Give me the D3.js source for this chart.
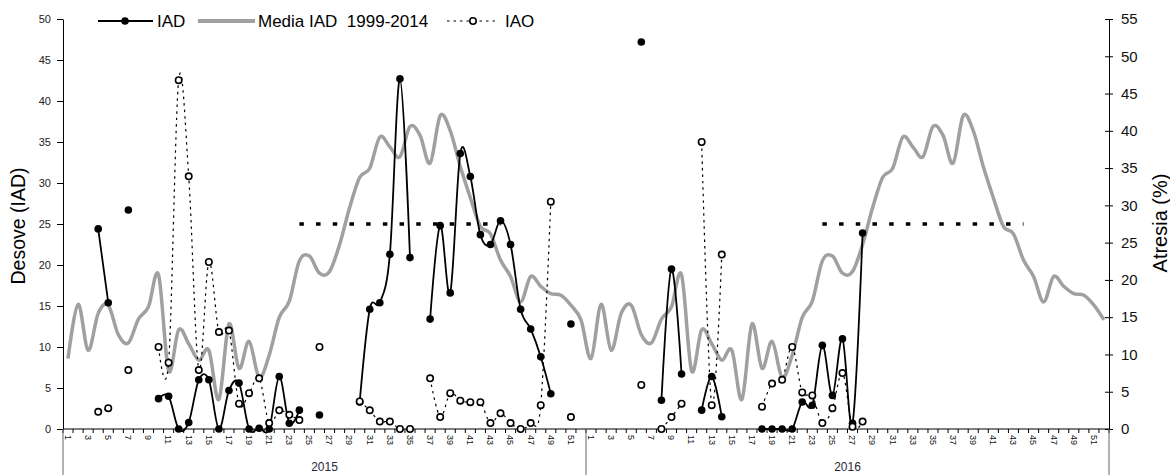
<!DOCTYPE html>
<html>
<head>
<meta charset="utf-8">
<script src="https://cdn.jsdelivr.net/npm/d3@7"></script>
<style>
  html, body { margin: 0; padding: 0; background: #fff; }
  svg { display: block; font-family: "Liberation Sans", Arial, sans-serif; }
</style>
</head>
<body>
<div id="chart"></div>
<script>
// datos semanales 2015-2016
const years = ['2015', '2016'];
const weeks = d3.range(1, 53);

// media IAD 1999-2014 (misma curva para los dos años)
const media = [
  8.6, 15.2, 9.6, 14.1, 15.1, 11.5, 10.5, 13.4, 14.9, 18.8,
  7.1, 12.1, 10.4, 8.4, 9.6, 3.6, 12.8, 7.4, 10.7, 6.3,
  9.0, 13.6, 15.6, 20.5, 21.1, 19.0, 19.2, 22.5, 27.0, 30.7,
  31.8, 35.6, 34.4, 33.2, 36.9, 35.8, 32.4, 38.2, 36.4, 32.0,
  28.2, 24.7, 23.8, 20.6, 18.6, 15.5, 18.6, 17.4, 16.5, 16.3,
  15.1, 13.3
];

const iad2015 = [
  null, null, null, 24.4, 15.4, null, 26.7, null, null, 3.7,
  4.0, 0, 0.8, 6.0, 6.0, 0, 4.7, 5.6, 0, 0.1,
  0, 6.4, 0.7, 2.3, null, 1.7, null, null, null, 3.3,
  14.6, 15.4, 21.3, 42.7, 20.9, null, 13.4, 24.8, 16.6, 33.6,
  30.8, 23.7, 22.5, 25.4, 22.5, 14.6, 12.2, 8.8, 4.3, null,
  12.8, null
];

const iad2016 = [
  null, null, null, null, null, 47.2, null, 3.5, 19.5, 6.7,
  null, 2.3, 6.4, 1.5, null, null, null, 0, 0, 0,
  0, 3.3, 2.9, 10.2, 4.1, 11.0, 0.7, 23.9, null, null,
  null, null, null, null, null, null, null, null, null, null,
  null, null, null, null, null, null, null, null, null, null,
  null, null
];

// IAO en eje derecho (Atresia %)
const iao2015 = [
  null, null, null, 2.3, 2.8, null, 7.9, null, null, 11.0,
  8.9, 46.8, 33.9, 7.9, 22.4, 13.0, 13.2, 3.4, 4.8, 6.8,
  0.8, 2.5, 1.9, 1.2, null, 11.0, null, null, null, 3.7,
  2.5, 1.0, 1.0, 0, 0, null, 6.8, 1.6, 4.8, 3.8,
  3.6, 3.6, 0.8, 2.1, 0.8, 0, 0.8, 3.2, 30.5, null,
  1.6, null
];

const iao2016 = [
  null, null, null, null, null, 5.9, null, 0, 1.6, 3.4,
  null, 38.5, 3.2, 23.4, null, null, null, 3.0, 6.1, 6.6,
  11.0, 4.9, 4.5, 0.8, 2.8, 7.5, 0.3, 1.0, null, null,
  null, null, null, null, null, null, null, null, null, null,
  null, null, null, null, null, null, null, null, null, null,
  null, null
];

// umbral de desove
const umbral = 25;
const umbralWeeks = [24, 44];

const leftTicks = d3.range(0, 51, 5);
const rightTicks = d3.range(0, 56, 5);

// ---- geometría ----
const W = 1170, H = 475;
const X0 = 63, X1 = 1109, Y0 = 429, YTOP = 19;
const GRAY = '#a0a0a0';

const svg = d3.select('#chart').append('svg')
  .attr('width', W).attr('height', H);

const keys = [];
years.forEach(y => weeks.forEach(w => keys.push(y + '-' + w)));

const x = d3.scaleBand().domain(keys).range([X0, X1]);
const cx = k => x(k) + x.bandwidth() / 2;
const yL = d3.scaleLinear().domain([0, 50]).range([Y0, YTOP]);
const yR = d3.scaleLinear().domain([0, 55]).range([Y0, YTOP]);

function series(a2015, a2016) {
  return keys.map((k, i) => ({ k, v: i < 52 ? a2015[i] : a2016[i - 52] }));
}

const iadData = series(iad2015, iad2016);
const iaoData = series(iao2015, iao2016);
const mediaData = series(media, media);

const smooth = d3.curveCardinal.tension(0);

// ---- ejes ----
const left = svg.append('g')
  .attr('transform', `translate(${X0},0)`)
  .call(d3.axisLeft(yL).tickValues(leftTicks).tickSize(6).tickSizeOuter(0).tickPadding(6));
left.selectAll('text').attr('font-size', 11).attr('fill', '#222')
  .attr('font-family', '"Liberation Sans", Arial, sans-serif');
left.selectAll('path, line').attr('stroke', '#000');

const right = svg.append('g')
  .attr('transform', `translate(${X1},0)`)
  .call(d3.axisRight(yR).tickValues(rightTicks).tickSize(4).tickSizeOuter(0).tickPadding(8));
right.selectAll('.tick line').attr('x1', -4);
right.selectAll('text').attr('font-size', 15).attr('fill', '#111')
  .attr('font-family', '"Liberation Sans", Arial, sans-serif');
right.selectAll('path, line').attr('stroke', '#000');

// eje x
svg.append('line')
  .attr('x1', X0).attr('x2', X1).attr('y1', Y0).attr('y2', Y0)
  .attr('stroke', '#000').attr('stroke-width', 1.2);

svg.append('g').selectAll('line')
  .data(keys.map(k => x(k)).concat([X1]))
  .join('line')
  .attr('x1', d => d).attr('x2', d => d)
  .attr('y1', Y0).attr('y2', Y0 + 4)
  .attr('stroke', '#000');

svg.append('g').selectAll('text')
  .data(keys.filter(k => +k.split('-')[1] % 2 === 1))
  .join('text')
  .attr('transform', k => `translate(${cx(k)},${Y0 + 6}) rotate(90)`)
  .attr('dy', '0.35em')
  .attr('font-size', 9)
  .attr('fill', '#111')
  .text(k => k.split('-')[1]);

// separadores de año
const sep = [x('2015-1'), x('2016-1'), X1];
svg.append('g').selectAll('line')
  .data(sep)
  .join('line')
  .attr('x1', d => d).attr('x2', d => d)
  .attr('y1', Y0).attr('y2', H)
  .attr('stroke', '#666');

svg.append('g').selectAll('text')
  .data(years)
  .join('text')
  .attr('x', y => (x(y + '-1') + x(y + '-52') + x.bandwidth()) / 2)
  .attr('y', 471)
  .attr('text-anchor', 'middle')
  .attr('font-size', 12)
  .attr('fill', '#2a2a3a')
  .text(y => y);

// títulos de ejes
svg.append('text')
  .attr('transform', 'translate(25,226) rotate(-90)')
  .attr('text-anchor', 'middle')
  .attr('font-size', 19.5)
  .text('Desove (IAD)');

svg.append('text')
  .attr('transform', 'translate(1167,223) rotate(-90)')
  .attr('text-anchor', 'middle')
  .attr('font-size', 20)
  .text('Atresia (%)');

// ---- series ----
// umbral (una línea por año)
years.forEach(y => {
  svg.append('path')
    .datum(umbralWeeks.map(w => y + '-' + w))
    .attr('d', d3.line().x(k => cx(k)).y(() => yL(umbral)))
    .attr('fill', 'none')
    .attr('stroke', '#000')
    .attr('stroke-width', 3.5)
    .attr('stroke-dasharray', '4.5,12.2');
});

// media IAD
svg.append('path')
  .datum(mediaData)
  .attr('d', d3.line().x(d => cx(d.k)).y(d => yL(d.v)).curve(smooth))
  .attr('fill', 'none')
  .attr('stroke', GRAY)
  .attr('stroke-width', 3.5);

// IAD
svg.append('path')
  .datum(iadData)
  .attr('d', d3.line().defined(d => d.v != null).x(d => cx(d.k)).y(d => yL(d.v)).curve(smooth))
  .attr('fill', 'none')
  .attr('stroke', '#000')
  .attr('stroke-width', 1.8);

svg.append('g').selectAll('circle')
  .data(iadData.filter(d => d.v != null))
  .join('circle')
  .attr('cx', d => cx(d.k))
  .attr('cy', d => yL(d.v))
  .attr('r', 3.8)
  .attr('fill', '#000');

// IAO
svg.append('path')
  .datum(iaoData)
  .attr('d', d3.line().defined(d => d.v != null).x(d => cx(d.k)).y(d => yR(d.v)).curve(smooth))
  .attr('fill', 'none')
  .attr('stroke', '#000')
  .attr('stroke-width', 1.2)
  .attr('stroke-dasharray', '2.5,4');

svg.append('g').selectAll('circle')
  .data(iaoData.filter(d => d.v != null))
  .join('circle')
  .attr('cx', d => cx(d.k))
  .attr('cy', d => yR(d.v))
  .attr('r', 3.2)
  .attr('fill', '#fff')
  .attr('stroke', '#000')
  .attr('stroke-width', 1.6);

// ---- leyenda ----
const lg = svg.append('g').attr('font-size', 17);
const LY = 21;

lg.append('line').attr('x1', 98).attr('x2', 153).attr('y1', LY).attr('y2', LY)
  .attr('stroke', '#000').attr('stroke-width', 1.8);
lg.append('circle').attr('cx', 125).attr('cy', LY).attr('r', 3.8).attr('fill', '#000');
lg.append('text').attr('x', 157).attr('y', LY + 6).text('IAD');

lg.append('line').attr('x1', 198).attr('x2', 255).attr('y1', LY).attr('y2', LY)
  .attr('stroke', GRAY).attr('stroke-width', 4);
lg.append('text').attr('x', 258).attr('y', LY + 6)
  .style('white-space', 'pre').text('Media IAD  1999-2014');

lg.append('line').attr('x1', 447).attr('x2', 498).attr('y1', LY).attr('y2', LY)
  .attr('stroke', '#000').attr('stroke-width', 1.2).attr('stroke-dasharray', '2.5,4');
lg.append('circle').attr('cx', 473).attr('cy', LY).attr('r', 3.2)
  .attr('fill', '#fff').attr('stroke', '#000').attr('stroke-width', 1.6);
lg.append('text').attr('x', 505).attr('y', LY + 6).text('IAO');
</script>
</body>
</html>
